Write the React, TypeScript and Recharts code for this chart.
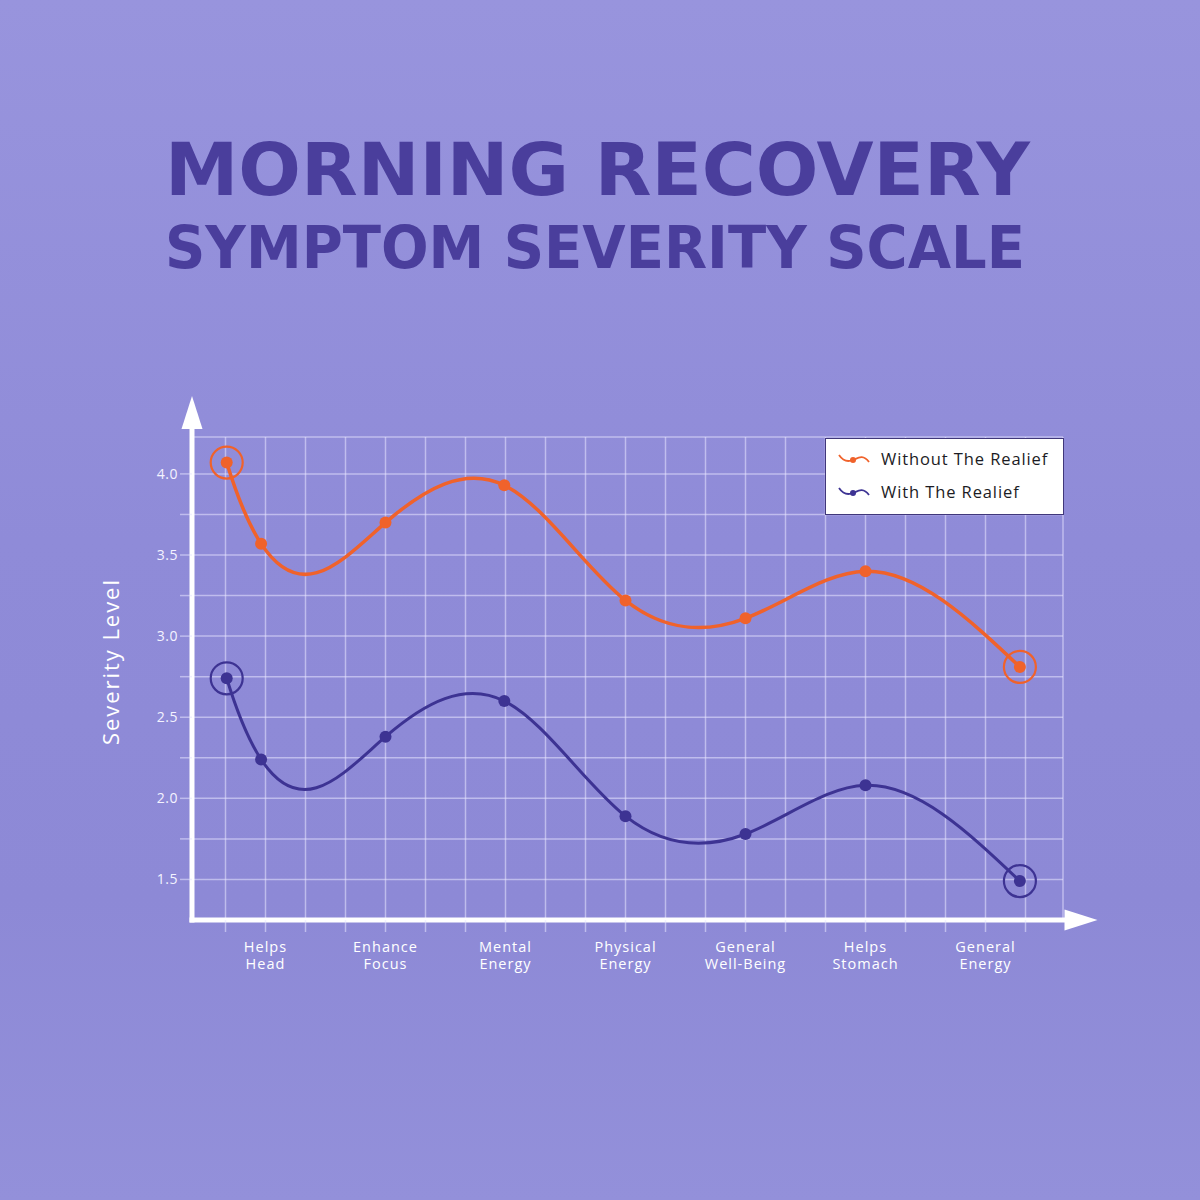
import React from 'react';
import { LineChart, Line, XAxis, YAxis, CartesianGrid, ReferenceLine, Legend } from 'recharts';

// ---- data ----
const categoryLabels: string[][] = [
  ['Helps', 'Head'],
  ['Enhance', 'Focus'],
  ['Mental', 'Energy'],
  ['Physical', 'Energy'],
  ['General', 'Well-Being'],
  ['Helps', 'Stomach'],
  ['General', 'Energy'],
];
const categoryPositions = [1, 4, 7, 10, 13, 16, 19];
const pointPositions = [0.03, 0.89, 4.0, 6.97, 10.0, 13.0, 16.0, 19.86];
const withoutRelief = [4.07, 3.57, 3.7, 3.93, 3.22, 3.11, 3.4, 2.81];
const withRelief = [2.74, 2.24, 2.38, 2.6, 1.89, 1.78, 2.08, 1.49];
const gridXTicks = [0, 1, 2, 3, 4, 5, 6, 7, 8, 9, 10, 11, 12, 13, 14, 15, 16, 17, 18, 19, 20];
const yTicks = [1.5, 1.75, 2.0, 2.25, 2.5, 2.75, 3.0, 3.25, 3.5, 3.75, 4.0];
const seriesNames = ['Without The Realief', 'With The Realief'];
const titleLines = ['MORNING RECOVERY', 'SYMPTOM SEVERITY SCALE'];

const tableData = pointPositions.map((x, i) => ({
  x,
  without: withoutRelief[i],
  with: withRelief[i],
}));

const ORANGE = '#f0622b';
const BLUE = '#3d3393';
const GRID = 'rgba(232,230,255,0.55)';
const FONT = "'Open Sans', 'Noto Sans', sans-serif";
const TITLE_FONT = "'DejaVu Sans', 'Open Sans', sans-serif";
const X_DOMAIN: [number, number] = [-0.8375, 20.9375];
const Y_DOMAIN: [number, number] = [1.25, 4.2275];

// Cubic spline curve factory (not-a-knot start, natural end), d3-curve compatible
function solveLinear(A: number[][], b: number[]): number[] {
  const n = b.length;
  const M = A.map((row, i) => [...row, b[i]]);
  for (let c = 0; c < n; c++) {
    let p = c;
    for (let r = c + 1; r < n; r++) if (Math.abs(M[r][c]) > Math.abs(M[p][c])) p = r;
    const tmp = M[c];
    M[c] = M[p];
    M[p] = tmp;
    const piv = M[c][c] || 1e-12;
    for (let r = 0; r < n; r++) {
      if (r === c) continue;
      const f = M[r][c] / piv;
      if (f === 0) continue;
      for (let k = c; k <= n; k++) M[r][k] -= f * M[c][k];
    }
  }
  return M.map((row, i) => row[n] / (row[i] || 1e-12));
}

function splineCurve(context: any) {
  let xs: number[] = [];
  let ys: number[] = [];
  return {
    areaStart() {},
    areaEnd() {},
    lineStart() {
      xs = [];
      ys = [];
    },
    point(x: number, y: number) {
      xs.push(+x);
      ys.push(+y);
    },
    lineEnd() {
      const n = xs.length;
      if (n === 0) return;
      context.moveTo(xs[0], ys[0]);
      if (n < 3) {
        if (n === 2) context.lineTo(xs[1], ys[1]);
        return;
      }
      const h: number[] = [];
      for (let i = 0; i < n - 1; i++) h.push(xs[i + 1] - xs[i]);
      const A = Array.from({ length: n }, () => new Array(n).fill(0));
      const b = new Array(n).fill(0);
      if (n >= 4) {
        A[0][0] = h[1];
        A[0][1] = -(h[0] + h[1]);
        A[0][2] = h[0];
      } else {
        A[0][0] = 1;
      }
      for (let i = 1; i < n - 1; i++) {
        A[i][i - 1] = h[i - 1];
        A[i][i] = 2 * (h[i - 1] + h[i]);
        A[i][i + 1] = h[i];
        b[i] = 6 * ((ys[i + 1] - ys[i]) / h[i] - (ys[i] - ys[i - 1]) / h[i - 1]);
      }
      A[n - 1][n - 1] = 1;
      const Ms = solveLinear(A, b);
      for (let i = 0; i < n - 1; i++) {
        const hi = h[i];
        const s = (ys[i + 1] - ys[i]) / hi;
        const d0 = s - (hi * (2 * Ms[i] + Ms[i + 1])) / 6;
        const d1 = s + (hi * (Ms[i] + 2 * Ms[i + 1])) / 6;
        context.bezierCurveTo(
          xs[i] + hi / 3,
          ys[i] + (d0 * hi) / 3,
          xs[i + 1] - hi / 3,
          ys[i + 1] - (d1 * hi) / 3,
          xs[i + 1],
          ys[i + 1]
        );
      }
    },
  };
}

const makeDot = (color: string, total: number) => (props: any) => {
  const { cx, cy, index } = props;
  if (cx == null || cy == null) return <g key={`d-${index}`} />;
  const ring = index === 0 || index === total - 1;
  return (
    <g key={`d-${color}-${index}`}>
      <circle cx={cx} cy={cy} r={6} fill={color} />
      {ring && <circle cx={cx} cy={cy} r={16} fill="none" stroke={color} strokeWidth={2.2} />}
    </g>
  );
};

const XTick = (props: any) => {
  const { x, y, payload } = props;
  const idx = categoryPositions.indexOf(payload.value);
  if (idx < 0) return <g />;
  const lines = categoryLabels[idx];
  return (
    <text x={x} y={y} textAnchor="middle" fill="#ffffff" fontSize={14.5} letterSpacing={1} fontFamily={FONT}>
      {lines.map((l, i) => (
        <tspan key={i} x={x} dy={i === 0 ? 18 : 17}>
          {l}
        </tspan>
      ))}
    </text>
  );
};

const YTick = (props: any) => {
  const { x, y, payload } = props;
  const v = payload.value;
  if (Math.abs(v * 2 - Math.round(v * 2)) > 1e-6) return <g />;
  return (
    <text x={x} y={y} dy={5} textAnchor="end" fill="#f4f3ff" fontSize={14} letterSpacing={0.5} fontFamily={FONT}>
      {v.toFixed(1)}
    </text>
  );
};

const ArrowAxis = (p: any) => {
  const { x1, y1, x2, y2 } = p;
  const dx = x2 - x1;
  const dy = y2 - y1;
  const len = Math.sqrt(dx * dx + dy * dy) || 1;
  const ux = dx / len;
  const uy = dy / len;
  const head = 33;
  const half = 10.5;
  const bx = x2 - ux * head;
  const by = y2 - uy * head;
  const px = -uy * half;
  const py = ux * half;
  return (
    <g>
      <line x1={x1} y1={y1} x2={bx + ux * 2} y2={by + uy * 2} stroke="#ffffff" strokeWidth={5} />
      <polygon points={`${x2},${y2} ${bx + px},${by + py} ${bx - px},${by - py}`} fill="#ffffff" />
    </g>
  );
};

const LegendIcon = ({ color }: { color: string }) => (
  <svg width={32} height={14} style={{ display: 'block' }}>
    <path d="M1 3 C 5 9, 10 10, 15 8 S 25 2, 31 10" fill="none" stroke={color} strokeWidth={1.8} />
    <circle cx={15} cy={8} r={3} fill={color} />
  </svg>
);

const LegendBox = () => {
  const colors = [ORANGE, BLUE];
  return (
    <div
      style={{
        width: 239,
        height: 77,
        boxSizing: 'border-box',
        background: '#ffffff',
        border: '1.5px solid #40377a',
        paddingTop: 3,
        fontFamily: FONT,
      }}
    >
      {seriesNames.map((n, i) => (
        <div key={n} style={{ display: 'flex', alignItems: 'center', height: 33, paddingLeft: 12 }}>
          <LegendIcon color={colors[i]} />
          <span style={{ marginLeft: 11, fontSize: 16.5, color: '#1c1c24', letterSpacing: 0.9 }}>{n}</span>
        </div>
      ))}
    </div>
  );
};

const SeverityLabel = (props: any) => {
  const vb = props.viewBox || {};
  const x = (vb.x ?? 82) + 28;
  const y = (vb.y ?? 437) + (vb.height ?? 483) / 2 - 16;
  return (
    <text
      x={x}
      y={y}
      transform={`rotate(-90 ${x} ${y})`}
      textAnchor="middle"
      dominantBaseline="central"
      fill="#ffffff"
      fontSize={22}
      fontFamily={FONT}
      textLength={165}
      lengthAdjust="spacing"
    >
      Severity Level
    </text>
  );
};

export default function App() {
  return (
    <div
      style={{
        position: 'absolute',
        left: 0,
        top: 0,
        width: 1200,
        height: 1200,
        background: 'linear-gradient(180deg, #9894dd 0%, #8f8bd8 45%, #8d89d6 75%, #9390da 100%)',
        overflow: 'hidden',
      }}
    >
      <svg width={1200} height={300} style={{ position: 'absolute', left: 0, top: 0 }}>
        <text
          x={597.5}
          y={195}
          textAnchor="middle"
          fill="#4a3e9c"
          fontSize={73}
          fontWeight={700}
          fontFamily={TITLE_FONT}
          textLength={865}
          lengthAdjust="spacingAndGlyphs"
        >
          {titleLines[0]}
        </text>
        <text
          x={595}
          y={268}
          textAnchor="middle"
          fill="#4a3e9c"
          fontSize={58}
          fontWeight={700}
          fontFamily={TITLE_FONT}
          textLength={860}
          lengthAdjust="spacingAndGlyphs"
        >
          {titleLines[1]}
        </text>
      </svg>
      <div style={{ position: 'absolute', left: 0, top: 0 }}>
        <LineChart
          width={1200}
          height={1200}
          data={tableData}
          margin={{ top: 437, right: 137, bottom: 220, left: 82 }}
        >
          <CartesianGrid stroke={GRID} strokeWidth={1.5} />
          <XAxis
            dataKey="x"
            type="number"
            domain={X_DOMAIN}
            allowDataOverflow
            ticks={gridXTicks}
            interval={0}
            tickSize={12}
            tickLine={{ stroke: GRID, strokeWidth: 1.5 }}
            axisLine={false}
            tick={<XTick />}
            height={60}
          />
          <YAxis
            type="number"
            domain={Y_DOMAIN}
            allowDataOverflow
            ticks={yTicks}
            interval={0}
            tickSize={12}
            tickMargin={2}
            tickLine={{ stroke: GRID, strokeWidth: 1.5 }}
            axisLine={false}
            tick={<YTick />}
            width={110}
            label={(p: any) => <SeverityLabel {...p} />}
          />
          <ReferenceLine
            segment={[
              { x: -0.9, y: 1.25 },
              { x: 21.8, y: 1.25 },
            ]}
            ifOverflow="visible"
            shape={ArrowAxis}
          />
          <ReferenceLine
            segment={[
              { x: -0.8375, y: 1.235 },
              { x: -0.8375, y: 4.48 },
            ]}
            ifOverflow="visible"
            shape={ArrowAxis}
          />
          <Legend
            layout="horizontal"
            verticalAlign="middle"
            align="center"
            wrapperStyle={{ left: 825, top: 438, width: 239, height: 77 }}
            content={() => <LegendBox />}
          />
          <Line
            type={splineCurve as any}
            dataKey="without"
            name={seriesNames[0]}
            stroke={ORANGE}
            strokeWidth={3.5}
            dot={makeDot(ORANGE, tableData.length)}
            activeDot={false}
            isAnimationActive={false}
          />
          <Line
            type={splineCurve as any}
            dataKey="with"
            name={seriesNames[1]}
            stroke={BLUE}
            strokeWidth={3}
            dot={makeDot(BLUE, tableData.length)}
            activeDot={false}
            isAnimationActive={false}
          />
        </LineChart>
      </div>
    </div>
  );
}
